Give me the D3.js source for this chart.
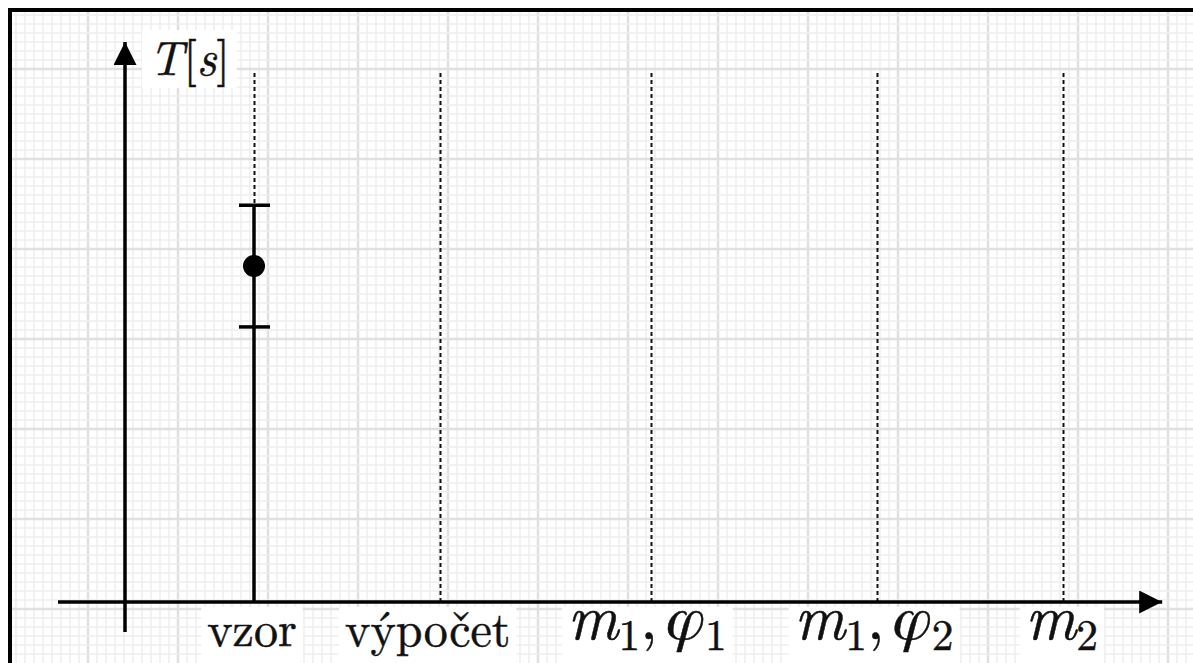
<!DOCTYPE html>
<html lang="cs">
<head>
<meta charset="utf-8" />
<title>T[s] – vzor, výpočet, měření</title>
<style>
  body{margin:0;background:#fff;}
  svg{display:block;}
</style>
<script src="https://cdn.jsdelivr.net/npm/d3@7.9.0/dist/d3.min.js"></script>
</head>
<body>
<svg id="chart"></svg>
<script>
/* ───────── DATA ───────── */
const categories = ['vzor','výpočet','m1phi1','m1phi2','m2'];
const catPos     = [1, 2.44, 4.08, 5.83, 7.27];      // position on the horizontal axis
const catLabels  = [
  [{t:'vzor'}],
  [{t:'výpočet'}],
  [{t:'m',it:1},{t:'1',sub:1},{t:','},{t:'φ',it:1,gr:1,dx:9},{t:'1',sub:1}],
  [{t:'m',it:1},{t:'1',sub:1},{t:','},{t:'φ',it:1,gr:1,dx:9},{t:'2',sub:1}],
  [{t:'m',it:1},{t:'2',sub:1}]
];
// measured period with error (only "vzor" has a value)
const tMean  = [6.35, null, null, null, null];
const tError = [1.15, null, null, null, null];
const yMax = 10;

/* ───────── CONFIG ───────── */
const W = 1193, H = 663;
const CM    = '"Latin Modern Roman","CMU Serif","Liberation Serif",serif';
const GREEK = 'FreeSerif,"Latin Modern Roman",serif';
const labelDx = [-2, -12, -4, -3, -1];   // small nudges of label centres
const svg = d3.select('#chart').attr('width',W).attr('height',H);

const x = d3.scaleLinear([0,8], [125, 125+129*8]);
const y = d3.scaleLinear([0,yMax], [602, 73]);
const px = v => Math.round(x(v))+0.5;

/* graph paper */
const paper = svg.append('g');
paper.append('rect').attr('x',10).attr('y',10).attr('width',W).attr('height',H).attr('fill','#fff');
const fine = 9, major = 90, offX = 448 % major, offY = 69 % major;
for(let gx = 10 + ((offX-10)%fine+fine)%fine; gx < W; gx += fine){
  const isMaj = ((gx-offX)%major+major)%major === 0;
  paper.append('line').attr('x1',gx).attr('x2',gx).attr('y1',12).attr('y2',H)
    .attr('stroke',isMaj?'#e0e0e0':'#eeeeee').attr('stroke-width',isMaj?2.5:1.5);
}
for(let gy = 10 + ((offY-10)%fine+fine)%fine; gy < H; gy += fine){
  const isMaj = ((gy-offY)%major+major)%major === 0;
  paper.append('line').attr('y1',gy).attr('y2',gy).attr('x1',12).attr('x2',W)
    .attr('stroke',isMaj?'#e0e0e0':'#eeeeee').attr('stroke-width',isMaj?2.5:1.5);
}

/* text with italic / subscript parts */
function richText(g, parts, size){
  const t = g.append('text').attr('font-family',CM).attr('font-size',size)
    .attr('fill','#111').attr('stroke','#111').attr('stroke-width',0.5);
  parts.forEach((p,k)=>{
    const ts = t.append('tspan').text(p.t);
    if(p.it) ts.attr('font-style','italic');
    if(p.gr) ts.attr('font-family',GREEK);
    let dy = 0;
    if(p.sub) dy += size*0.17;
    if(k>0 && parts[k-1].sub && !p.sub) dy -= size*0.17;
    if(dy) ts.attr('dy',dy);
    if(p.sub) ts.attr('font-size',size*0.7);
    if(p.dx) ts.attr('dx',p.dx);
  });
  return t;
}

/* category labels with white boxes (drawn before the axis) */
categories.forEach((c,i)=>{
  const g = svg.append('g');
  const isMath = catLabels[i][0].it;
  const t = richText(g, catLabels[i], isMath?62:48);
  t.attr('x',x(catPos[i])+labelDx[i]).attr('y',isMath?639:646).attr('text-anchor','middle');
  const b = t.node().getBBox();
  g.insert('rect','text').attr('x',b.x-6).attr('y',y(0)+5)
    .attr('width',b.width+12).attr('height',H).attr('fill','#fff');
});

/* frame */
svg.append('rect').attr('x',10).attr('y',10).attr('width',W+20).attr('height',H+20)
  .attr('fill','none').attr('stroke','#000').attr('stroke-width',4);

/* dashed guides */
svg.append('g').selectAll('line').data(categories).join('line')
  .attr('x1',(d,i)=>px(catPos[i])).attr('x2',(d,i)=>px(catPos[i]))
  .attr('y1',y(yMax))
  .attr('y2',(d,i)=>tMean[i]==null ? y(0) : y(tMean[i]+tError[i]))
  .attr('stroke','#111').attr('stroke-width',2).attr('stroke-dasharray','4,3');

/* axes with arrows */
svg.append('defs').append('marker').attr('id','arr')
  .attr('viewBox','0 0 10 10').attr('refX',10).attr('refY',5)
  .attr('markerUnits','userSpaceOnUse').attr('markerWidth',23).attr('markerHeight',23)
  .attr('orient','auto')
  .append('path').attr('d','M0,0L10,5L0,10Z').attr('fill','#000');

svg.append('line').attr('x1',58).attr('x2',x(8.04)).attr('y1',y(0)).attr('y2',y(0))
  .attr('stroke','#000').attr('stroke-width',3.5).attr('marker-end','url(#arr)');
svg.append('line').attr('x1',x(0)).attr('x2',x(0)).attr('y1',632).attr('y2',y(yMax)-31)
  .attr('stroke','#000').attr('stroke-width',3.5).attr('marker-end','url(#arr)');

/* error bar + point */
const pts = categories.map((c,i)=>({i,m:tMean[i],e:tError[i]})).filter(d=>d.m!=null);
const eb = svg.append('g').selectAll('g').data(pts).join('g');
eb.append('line').attr('x1',d=>x(catPos[d.i])).attr('x2',d=>x(catPos[d.i]))
  .attr('y1',d=>y(d.m+d.e)).attr('y2',y(0)).attr('stroke','#000').attr('stroke-width',3.5);
eb.selectAll('.cap').data(d=>[d.m+d.e,d.m-d.e].map(v=>({i:d.i,v}))).join('line')
  .attr('class','cap')
  .attr('x1',d=>x(catPos[d.i])-15).attr('x2',d=>x(catPos[d.i])+16)
  .attr('y1',d=>y(d.v)).attr('y2',d=>y(d.v)).attr('stroke','#000').attr('stroke-width',3.5);
eb.append('circle').attr('cx',d=>x(catPos[d.i])).attr('cy',d=>y(d.m)).attr('r',11).attr('fill','#000');

/* y-axis title T[s] */
const tg = svg.append('g');
const tt = richText(tg, [{t:'T',it:1},{t:'['},{t:'s',it:1},{t:']'}], 48)
  .attr('x',x(0)+24).attr('y',y(yMax)+2);
const tb = tt.node().getBBox();
tg.insert('rect','text').attr('x',tb.x-7).attr('y',30)
  .attr('width',tb.width+14).attr('height',58).attr('fill','#fff');
</script>
</body>
</html>
